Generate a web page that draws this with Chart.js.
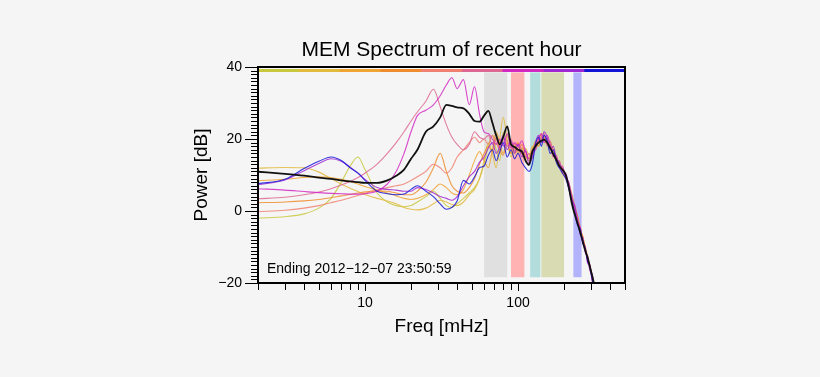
<!DOCTYPE html>
<html><head><meta charset="utf-8">
<script src="https://cdn.jsdelivr.net/npm/chart.js@4.4.1/dist/chart.umd.min.js"></script>
<style>html,body{margin:0;padding:0;background:#f5f5f5;}#wrap{width:820px;height:377px;}</style>
</head><body><div id="wrap"><canvas id="c" width="820" height="377"></canvas></div>
<script>
// ---------- DATA ----------
const freq = [2,3,4,5,6,7,8,9,10,12,
  14,16,18,20,22,25,28,31,34,37,
  40,44,48,52,56,60,64,68,72,76,
  80,85,90,95,100,106,112,118,124,130,
  136,142,148,155,162,170,178,186,195,205,
  215,225,235,245,255,265,275,285,295,305,
  315];

const hourSpectrum = [10.9,10.3,9.8,9.3,8.9,8.5,8.2,8.0,7.8,7.8,
  8.5,9.8,11.5,14.5,17.0,22.0,23.5,26.0,29.5,29.2,
  28.8,28.5,27.0,25.0,24.8,26.5,27.8,24.5,21.0,18.5,
  20.5,23.5,18.5,17.8,17.0,16.5,14.0,12.8,16.5,18.0,
  19.0,19.5,19.8,19.0,17.6,15.8,14.2,12.5,11.5,10.0,
  6.5,2.0,-1.0,-3.5,-6.0,-8.5,-11.0,-13.0,-15.5,-18.0,
  -20.5];

const seg1 = [-2.0,-1.6,-0.8,0.8,3.5,8.0,12.5,15.0,11.5,5.0,
  2.5,1.5,1.2,1.5,2.5,4.0,5.5,3.5,1.5,1.0,
  2.0,3.5,5.0,6.5,9.0,13.0,18.0,21.0,17.0,14.0,
  22.0,19.0,15.0,17.0,16.0,17.5,15.0,14.0,16.5,18.5,
  19.5,20.5,19.5,20.0,18.0,16.5,15.0,13.0,12.0,10.0,
  7.0,4.0,1.0,-2.0,-5.0,-8.0,-10.5,-13.0,-16.0,-18.5,
  -21.0];
const seg2 = [11.9,12.1,12.0,10.8,9.0,7.5,6.3,5.4,4.6,3.5,
  2.8,2.0,1.0,0.5,0.3,0.8,2.0,3.0,2.5,1.8,
  1.5,2.5,4.5,6.0,9.0,14.0,19.0,16.0,12.0,20.0,
  26.0,20.0,16.0,18.5,17.0,16.0,17.5,15.5,17.0,19.5,
  18.0,21.0,20.5,18.5,19.0,17.0,14.0,13.5,11.0,9.0,
  7.5,4.5,1.5,-1.5,-4.5,-7.5,-10.0,-12.5,-15.5,-18.0,
  -20.5];
const seg3 = [8.4,8.8,9.3,9.5,9.3,8.8,8.2,7.5,6.8,5.8,
  5.0,4.2,3.5,3.2,3.5,4.5,6.0,7.5,6.5,5.0,
  4.5,6.0,10.0,14.0,16.5,14.0,12.0,17.0,22.0,19.0,
  16.0,21.0,18.0,16.0,17.5,18.5,15.0,15.0,18.0,17.0,
  19.5,21.5,20.0,18.5,18.5,15.5,14.0,13.0,10.5,10.0,
  6.0,3.0,0.0,-3.0,-4.5,-8.0,-10.0,-14.0,-15.0,-19.0,
  -21.0];
const seg4 = [2.3,2.5,2.8,3.2,3.7,4.2,4.6,5.0,5.3,5.6,
  5.5,5.0,4.5,4.5,5.5,8.0,12.0,16.0,11.0,7.0,
  5.5,5.0,6.5,9.0,13.0,16.0,18.0,16.5,20.5,17.0,
  15.5,19.0,16.0,17.5,19.0,16.0,16.5,14.5,16.0,19.0,
  18.0,20.0,20.5,19.0,17.5,16.5,15.0,12.5,12.0,9.0,
  7.0,4.0,1.0,-1.5,-5.5,-7.0,-10.5,-13.0,-15.5,-18.5,
  -20.5];
const seg5 = [-0.2,0.2,0.8,1.5,2.3,3.0,3.7,4.3,4.9,5.8,
  6.5,7.0,7.5,8.5,9.5,11.0,13.0,12.0,10.5,12.0,
  15.0,17.0,19.0,20.5,19.0,20.0,18.5,21.0,19.0,17.0,
  20.0,19.5,17.0,18.5,16.5,18.5,15.5,14.0,17.0,18.0,
  20.5,21.0,19.5,20.0,18.0,17.0,14.5,12.5,12.0,9.5,
  7.5,4.5,0.5,-2.0,-5.0,-7.5,-10.5,-13.5,-15.5,-18.5,
  -20.5];
const seg6 = [3.4,3.8,4.5,5.3,6.2,7.2,8.2,9.3,10.5,13.0,
  16.0,19.0,22.0,25.0,27.5,30.5,33.8,29.0,24.0,20.5,
  18.5,17.0,18.5,22.0,20.5,20.0,21.0,18.5,20.0,17.5,
  19.5,18.0,20.0,16.5,18.5,17.0,15.0,16.0,14.5,18.0,
  19.0,20.5,21.5,18.0,19.5,16.0,14.0,14.0,11.0,10.0,
  6.5,4.0,0.0,-2.0,-6.0,-8.0,-11.0,-13.0,-16.5,-18.0,
  -21.0];
const seg7 = [6.2,5.8,5.4,5.1,4.9,4.8,4.7,4.7,4.8,5.5,
  7.5,11.0,16.0,22.0,26.5,28.0,29.5,32.0,35.0,37.0,
  34.0,36.5,29.5,34.5,27.0,22.0,21.5,20.0,18.5,20.0,
  18.0,21.5,17.5,19.0,18.0,19.5,16.5,14.5,16.0,17.0,
  20.0,21.5,19.0,21.0,18.5,15.0,15.5,12.0,12.5,9.0,
  8.0,3.0,1.5,-3.0,-4.5,-9.0,-10.0,-14.5,-15.0,-19.5,
  -20.5];
const seg8 = [7.3,8.6,11.2,13.2,14.5,13.8,12.2,10.5,8.8,6.5,
  6.0,5.8,5.5,5.5,6.5,6.0,5.0,4.0,3.5,3.0,
  4.0,7.0,9.5,11.0,13.5,15.0,17.5,19.0,16.0,18.0,
  21.0,17.0,19.5,16.0,18.5,15.0,17.0,13.0,15.0,19.0,
  21.0,19.0,22.0,20.5,17.0,18.0,14.5,13.5,11.0,10.5,
  7.0,3.5,1.0,-2.5,-6.5,-7.5,-11.5,-12.5,-16.5,-17.5,
  -21.0];
const seg9 = [7.6,8.8,11.8,13.8,15.0,14.0,12.0,10.5,8.5,5.5,
  4.8,4.5,4.7,6.0,7.0,5.5,4.0,2.0,0.5,1.0,
  2.8,8.5,7.5,9.5,12.0,12.5,15.5,17.0,14.0,16.5,
  19.0,15.0,17.0,14.5,16.0,13.5,12.0,11.0,13.0,18.5,
  20.5,18.0,21.0,19.5,16.0,17.0,13.5,12.0,10.5,9.0,
  6.0,2.5,-0.5,-4.0,-5.0,-9.0,-10.5,-14.0,-15.5,-19.0,
  -21.0];

const bandLow  = [60, 90, 120, 142, 230];
const bandHigh = [85, 110, 140, 200, 260];
const bandBottom = -18.4, bandTop = 38.5;

const xTicks  = [2,3,4,5,6,7,8,9,10,20,30,40,50,60,70,80,90,100,200,300,400,500];
const xLabels = [10, 100];
const yLabels = [-20, 0, 20, 40];
const endingText = 'Ending 2012\u221212\u221207 23:50:59';

// ---------- STYLE ----------
const FONT = "'Liberation Sans', Arial, Helvetica, sans-serif";
const segColors = [[200,200,60],[226,186,62],[240,165,50],[240,140,45],[240,128,112],[222,104,146],[210,40,195],[160,40,210],[20,20,215]];
const bandColors = ['#e0e0e0','#ffb3b3','#b3dddd','#d9dbb3','#b3b3fb'];
const rgba = (c,a) => `rgba(${c[0]},${c[1]},${c[2]},${a})`;

const segs = [seg1,seg2,seg3,seg4,seg5,seg6,seg7,seg8,seg9];
const pts = vals => freq.map((f,i)=>({x:f, y:vals[i]}));

const datasets = [{
  data: pts(hourSpectrum), borderColor:'#111', borderWidth:1.8,
  pointRadius:0, cubicInterpolationMode:'monotone', fill:false
}];
for (let k = segs.length-1; k >= 0; k--) {
  datasets.push({data: pts(segs[k]), borderColor: rgba(segColors[k],0.85), borderWidth:1.1,
    pointRadius:0, cubicInterpolationMode:'monotone', fill:false});
}

const deco = {
  id:'deco',
  beforeDraw(chart){
    const ctx = chart.ctx; ctx.save(); ctx.fillStyle='#f5f5f5';
    ctx.fillRect(0,0,chart.width,chart.height); ctx.restore();
  },
  beforeDatasetsDraw(chart){
    const ctx = chart.ctx, xs = chart.scales.x, ys = chart.scales.y;
    ctx.save();
    for (let i=0;i<bandLow.length;i++){
      const x0 = xs.getPixelForValue(bandLow[i]), x1 = xs.getPixelForValue(bandHigh[i]);
      const y0 = ys.getPixelForValue(bandTop), y1 = ys.getPixelForValue(bandBottom);
      ctx.fillStyle = bandColors[i];
      ctx.fillRect(x0, y0, x1-x0, y1-y0);
    }
    ctx.restore();
  },
  afterDatasetsDraw(chart){
    const ctx = chart.ctx, ca = chart.chartArea, xs = chart.scales.x, ys = chart.scales.y;
    ctx.save();
    // colour key strip
    const w = (ca.right-ca.left)/segColors.length;
    segColors.forEach((c,i)=>{ ctx.fillStyle = rgba(c,1); ctx.fillRect(ca.left+i*w, ca.top+2, w+0.5, 3); });
    // frame
    ctx.strokeStyle='#000'; ctx.lineWidth=2;
    ctx.strokeRect(ca.left, ca.top, ca.right-ca.left, ca.bottom-ca.top);
    // y ticks (every dB)
    ctx.fillStyle='#000';
    for (let v=-20; v<=40; v++){
      const y = Math.round(ys.getPixelForValue(v));
      const len = (v%20===0) ? 13 : 7;
      ctx.fillRect(ca.left-len, y, len, 1);
    }
    // x ticks
    xTicks.forEach(v=>{
      const x = Math.round(xs.getPixelForValue(v));
      const len = xLabels.includes(v) ? 8 : 7;
      ctx.fillRect(x, ca.bottom, 1, len);
    });
    // annotation
    ctx.fillStyle='#000'; ctx.font = '14px ' + FONT; ctx.textBaseline='alphabetic'; ctx.textAlign='left';
    ctx.fillText(endingText, ca.left+9, 273);
    ctx.restore();
  }
};

const fmt = v => v<0 ? '\u2212'+Math.abs(v) : String(v);

new Chart(document.getElementById('c'), {
  type:'line',
  data:{datasets},
  options:{
    responsive:false, animation:false, events:[],
    layout:{padding:{left:0,right:195,top:0,bottom:0}},
    plugins:{legend:{display:false}, tooltip:{enabled:false}, title:{display:false}},
    scales:{
      x:{type:'logarithmic', position:'bottom', min:2, max:500,
        afterBuildTicks: s => { s.ticks = xTicks.map(v=>({value:v})); },
        afterFit: s => { s.height = 94; },
        grid:{display:false, drawTicks:false}, border:{display:false},
        ticks:{autoSkip:false, maxRotation:0, minRotation:0, padding:12, color:'#000',
          font:{size:14, family:FONT}, callback:(v)=> xLabels.includes(v) ? String(v) : ''},
        title:{display:true, text:'Freq [mHz]', color:'#000', font:{size:19, family:FONT}, padding:{top:0,bottom:38.6}}
      },
      y:{type:'linear', position:'left', min:-20, max:40,
        afterBuildTicks: s => { s.ticks = yLabels.map(v=>({value:v})); },
        afterFit: s => { s.width = 258; },
        grid:{display:false, drawTicks:false}, border:{display:false},
        ticks:{autoSkip:false, padding:16, color:'#000', font:{size:14, family:FONT}, callback: v => fmt(v)},
        title:{display:true, text:'Power [dB]', color:'#000', font:{size:19, family:FONT}, padding:{top:190.6,bottom:0}}
      },
      t:{type:'linear', position:'top', axis:'x',
        afterFit: s => { s.height = 67; },
        grid:{display:false, drawTicks:false}, border:{display:false},
        ticks:{display:false},
        title:{display:true, text:'MEM Spectrum of recent hour', color:'#000', font:{size:21, family:FONT}, padding:{top:37.4,bottom:0}}
      }
    }
  },
  plugins:[deco]
});
</script></body></html>
